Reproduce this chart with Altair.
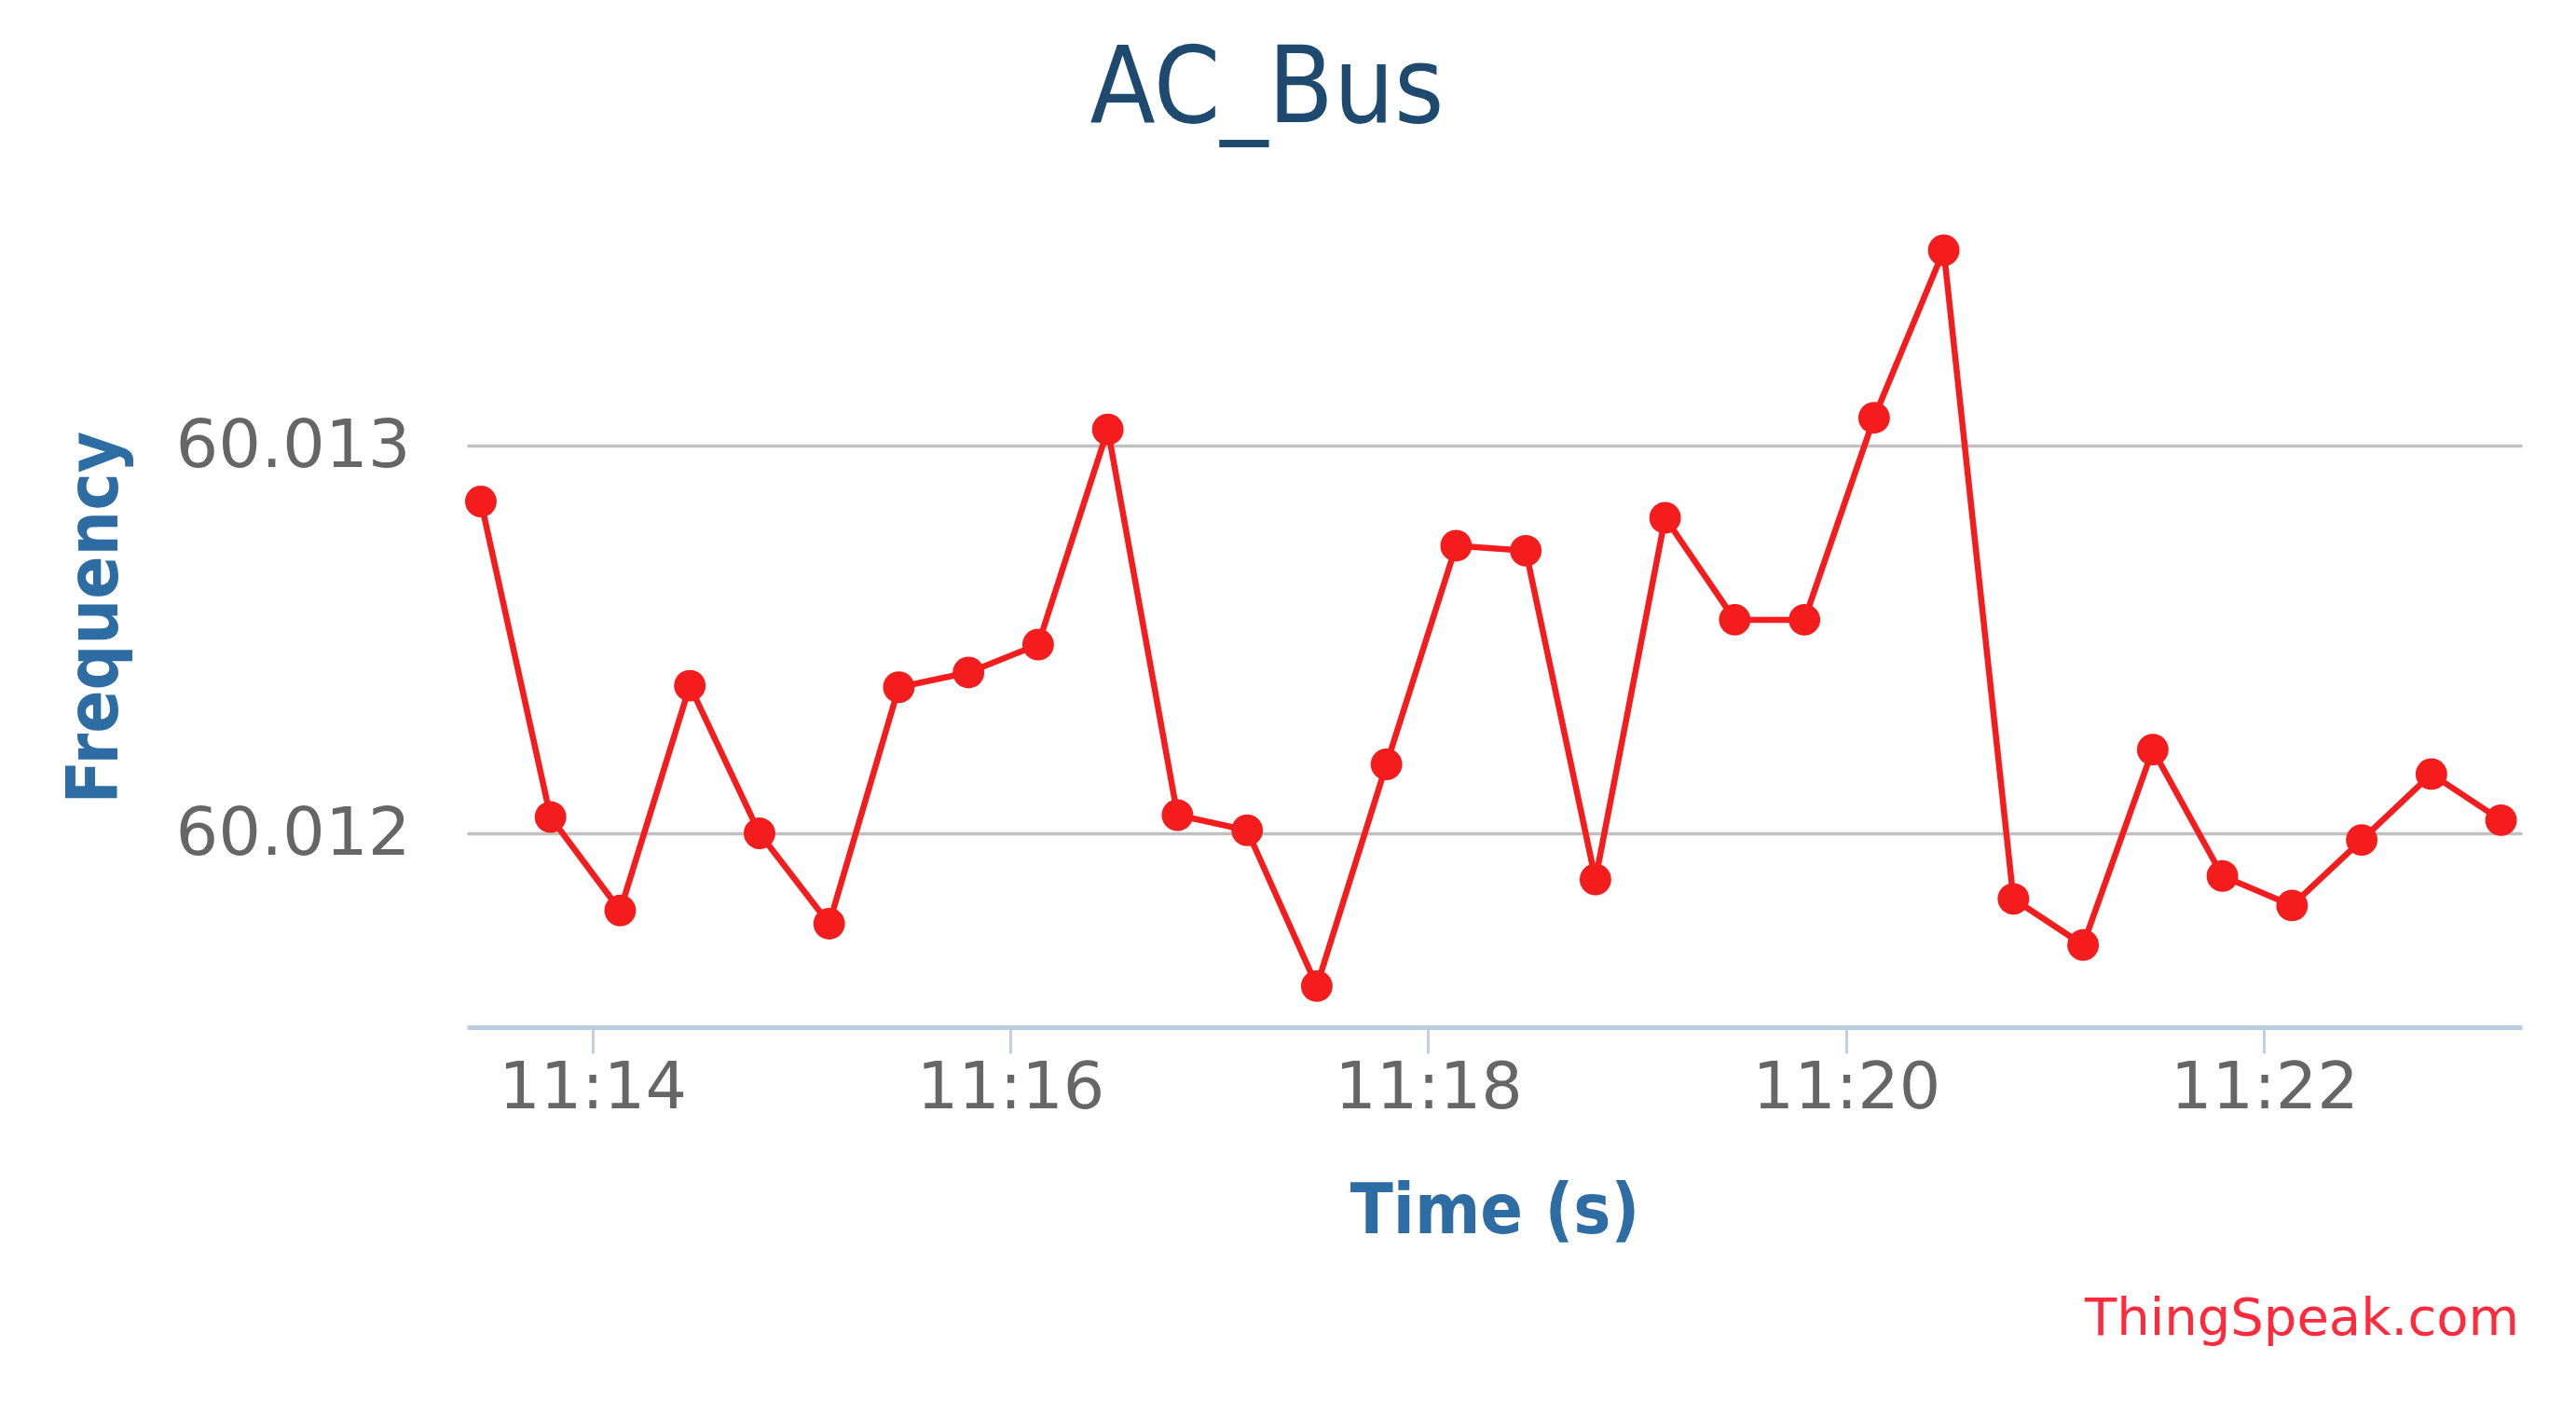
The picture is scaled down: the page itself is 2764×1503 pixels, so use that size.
import altair as alt
import pandas as pd

times = [
    "2024-01-01T11:13:28", "2024-01-01T11:13:48", "2024-01-01T11:14:08", "2024-01-01T11:14:28",
    "2024-01-01T11:14:48", "2024-01-01T11:15:08", "2024-01-01T11:15:28", "2024-01-01T11:15:48",
    "2024-01-01T11:16:08", "2024-01-01T11:16:28", "2024-01-01T11:16:48", "2024-01-01T11:17:08",
    "2024-01-01T11:17:28", "2024-01-01T11:17:48", "2024-01-01T11:18:08", "2024-01-01T11:18:28",
    "2024-01-01T11:18:48", "2024-01-01T11:19:08", "2024-01-01T11:19:28", "2024-01-01T11:19:48",
    "2024-01-01T11:20:08", "2024-01-01T11:20:28", "2024-01-01T11:20:48", "2024-01-01T11:21:08",
    "2024-01-01T11:21:28", "2024-01-01T11:21:48", "2024-01-01T11:22:08", "2024-01-01T11:22:28",
    "2024-01-01T11:22:48", "2024-01-01T11:23:08",
]
frequency = [
    60.012856, 60.012042, 60.011801, 60.012381, 60.012000, 60.011767, 60.012377, 60.012415,
    60.012487, 60.013042, 60.012047, 60.012008, 60.011606, 60.012178, 60.012742, 60.012729,
    60.011881, 60.012814, 60.012551, 60.012551, 60.013072, 60.013504, 60.011831, 60.011712,
    60.012216, 60.011890, 60.011814, 60.011983, 60.012153, 60.012034,
]
x_ticks = ["2024-01-01T11:14:00", "2024-01-01T11:16:00", "2024-01-01T11:18:00",
           "2024-01-01T11:20:00", "2024-01-01T11:22:00"]
x_range = ["2024-01-01T11:13:24", "2024-01-01T11:23:14"]
y_ticks = [60.012, 60.013]
credit = ["ThingSpeak.com"]

df = pd.DataFrame({"time": times, "freq": frequency})

LINE = "#f41c1c"
AXT = "#2e6da4"
FONT = "DejaVu Sans"
COND = "DejaVu Sans Condensed, DejaVu Sans"


def dt(s):
    h, m, sec = (int(v) for v in s.split("T")[1].split(":"))
    return alt.DateTime(year=2024, month=1, date=1, hours=h, minutes=m, seconds=sec)


x_enc = alt.X(
    "time:T",
    scale=alt.Scale(domain=[dt(s) for s in x_range]),
    axis=alt.Axis(
        format="%H:%M",
        values=[dt(s) for s in x_ticks],
        grid=False,
        domainColor="#b8cce0", domainWidth=5,
        tickColor="#c0d0e0", tickSize=28, tickWidth=3,
        labelFont=FONT, labelFontSize=70, labelColor="#666666",
        labelPadding=3, labelLimit=0,
        title="Time (s)", titleFont=COND, titleFontSize=75, titleFontWeight="bold",
        titleColor=AXT, titlePadding=61,
    ),
)
y_enc = alt.Y(
    "freq:Q",
    scale=alt.Scale(domain=[60.0115, 60.0137], nice=False, zero=False),
    axis=alt.Axis(
        values=y_ticks, format=".3f",
        grid=True, gridColor="#c0c0c0", gridWidth=3.5,
        domain=False, ticks=False,
        labelFont=FONT, labelFontSize=72, labelColor="#666666",
        labelPadding=61, labelLimit=0,
        title="Frequency", titleFont=COND, titleFontSize=76, titleFontWeight="bold",
        titleColor=AXT, titleX=-399, titleY=475, titleAngle=270,
        titleAlign="center", titleBaseline="middle",
    ),
)

base = alt.Chart(df).encode(x=x_enc, y=y_enc)
line = base.mark_line(color=LINE, strokeWidth=6.5)
pts = base.mark_circle(color=LINE, size=1150, opacity=1)

credits = alt.Chart(pd.DataFrame({"t": credit})).mark_text(
    font=FONT, fontSize=56, color="#ff2a3c", align="right", baseline="alphabetic"
).encode(text="t:N", x=alt.value(2202), y=alt.value(1245))

chart = alt.layer(line, pts, credits).properties(
    width=2205, height=915,
    autosize=alt.AutoSizeParams(type="none"),
    padding={"left": 493, "top": 179, "right": 50, "bottom": 380},
    title=alt.TitleParams(
        "AC_Bus", font=COND, fontSize=114, color="#1f4a70", fontWeight="normal",
        anchor="middle", frame="group", dx=-244, offset=32,
    ),
).configure_view(stroke=None)

chart.save("out.html", embed_options={"renderer": "svg", "actions": False})
